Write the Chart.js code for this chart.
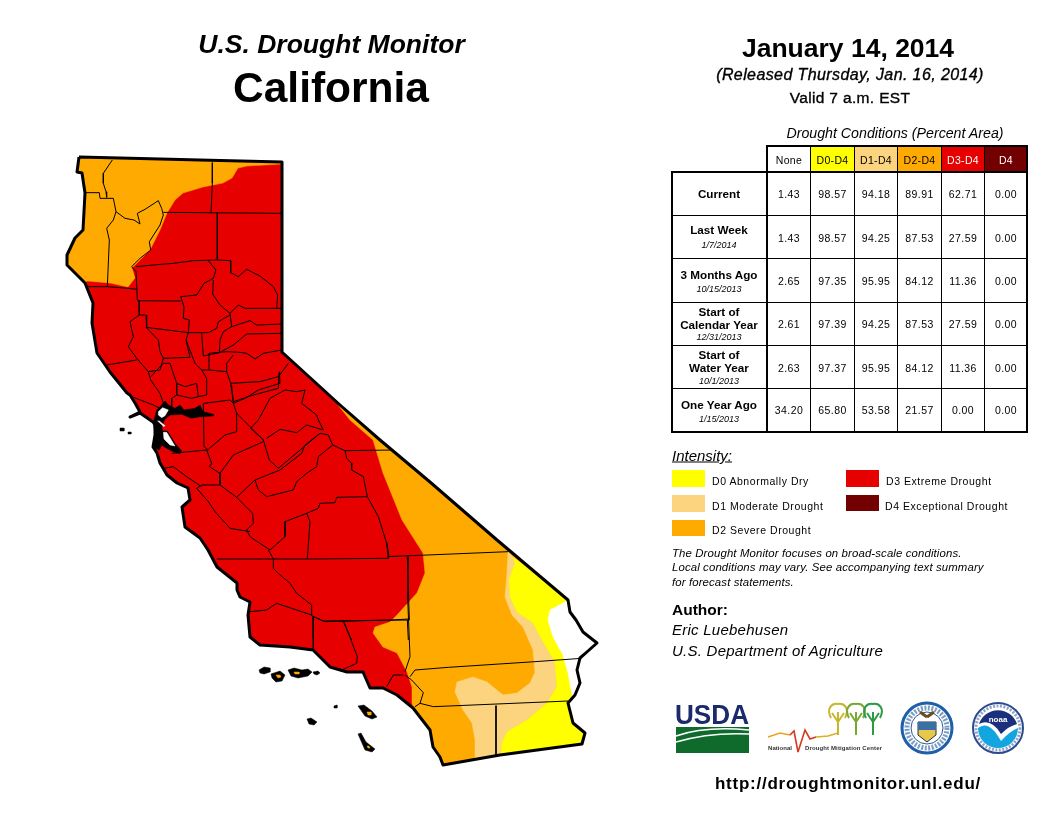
<!DOCTYPE html>
<html><head><meta charset="utf-8">
<script src="https://cdn.jsdelivr.net/npm/chart.js@4"></script>
<style>
html,body{margin:0;padding:0;background:#fff;width:1056px;height:816px;overflow:hidden}
#stage{position:relative;width:1056px;height:816px;font-family:"Liberation Sans",Arial,sans-serif;color:#000}
canvas{position:absolute;left:0;top:0}
.t{position:absolute;white-space:nowrap;line-height:1}
.b{position:absolute;background:#000}
svg{position:absolute;left:0;top:0}
</style></head><body>
<div id="stage"><canvas id="map" width="1056" height="816"></canvas></div>
<script>
// ---------- table data ----------
const columns = ["None","D0-D4","D1-D4","D2-D4","D3-D4","D4"];
const rowCurrent   = ["1.43","98.57","94.18","89.91","62.71","0.00"];
const rowLastWeek  = ["1.43","98.57","94.25","87.53","27.59","0.00"];
const row3Months   = ["2.65","97.35","95.95","84.12","11.36","0.00"];
const rowCalYear   = ["2.61","97.39","94.25","87.53","27.59","0.00"];
const rowWaterYear = ["2.63","97.37","95.95","84.12","11.36","0.00"];
const rowYearAgo   = ["34.20","65.80","53.58","21.57","0.00","0.00"];
const legendLabels = ["D0 Abnormally Dry","D1 Moderate Drought","D2 Severe Drought","D3 Extreme Drought","D4 Exceptional Drought"];
const C = {d0:"#FFFF00",d1:"#FCD37F",d2:"#FFAA00",d3:"#E60000",d4:"#730000"};

// ---------- map geometry, in map units [x,y,...] ----------
const stateOutline = [79,157,120,158,200,160,282,162,282,352,283,353,340,405,380,440,430,482,497,540,568,600,570,612,576,620,583,632,597,643,588,651,580,658,577,670,580,683,575,695,568,703,573,723,585,733,582,744,500,755,443,765,440,757,433,747,430,730,413,708,397,695,383,688,370,688,363,672,347,672,330,667,313,650,290,647,260,645,250,637,248,615,250,602,240,597,237,590,237,583,217,567,208,550,200,538,185,527,182,507,190,500,188,488,177,483,167,475,160,463,157,453,153,447,155,435,155,425,153,422,140,413,130,417,140,412,135,403,130,395,127,393,110,372,97,353,92,323,93,303,85,283,67,265,67,255,75,238,83,230,85,193,82,173,77,172];
const d2North = [79,157,120,158,200,160,282,162,282,164,247,166,238,168,232,178,223,183,203,187,183,193,175,200,167,213,160,230,150,250,132,268,135,278,128,287,110,283,87,281,85,283,67,265,67,255,75,238,83,230,85,193,82,173,77,172];
const d2South = [338,405,380,440,430,482,497,540,568,600,570,612,583,632,597,643,580,658,577,670,580,683,568,703,573,723,585,733,582,744,500,755,443,765,433,747,430,730,413,708,412,703,412,687,407,672,397,653,383,647,373,633,374,630,375,627,390,622,397,615,417,593,425,573,423,553,402,520,383,473,373,440,350,420];
const d1South = [508,552,513,557,515,563,509,580,510,597,517,612,533,623,542,640,555,662,557,687,547,703,527,720,507,732,502,743,501,755,475,759,475,740,472,723,463,710,455,692,457,682,473,677,487,682,503,695,517,693,530,683,535,672,533,650,523,627,512,615,505,597,507,573];
const d0South = [513,557,568,600,570,612,583,632,597,643,580,658,577,670,580,683,568,703,573,723,585,733,582,744,501,755,502,743,507,732,527,720,547,703,557,687,555,662,542,640,533,623,517,612,510,597,509,580,515,563];
const noneEast = [565,602,568,600,570,612,583,632,597,643,580,658,577,670,580,683,573,700,568,673,563,655,553,637,548,620,550,610];
const islandsBlack = [
 [259,670,264,667,270,668,270,672,264,674,260,673],
 [271,674,280,671,285,675,282,681,276,682,272,678],
 [288,670,294,668,302,670,308,669,312,672,308,676,298,678,291,676],
 [313,672,318,671,320,673,317,675,314,674],
 [334,706,337,705,337,708,334,708],
 [358,706,364,705,372,711,377,717,372,719,365,716],
 [307,719,311,718,317,722,314,725,309,724],
 [358,734,361,733,366,742,375,749,372,752,365,750],
 [120,428,124,428,124,431,120,431],[128,432,131,432,131,434,128,434]];
const islandsOrange = [[276,675,280,675,281,677,278,678],[294,672,299,672,299,674,295,674],[367,712,371,712,371,715,368,715],[367,746,369,746,370,748,368,748]];
const bayBlack = [135,48,145,60,165,70,180,60,192,75,225,70,240,60,250,80,280,88,280,93,240,95,215,100,185,88,150,90,135,102,125,125,128,138,142,138,165,175,185,198,180,206,160,200,140,190,125,180,118,195,105,190,100,185,105,150,100,115,110,75,125,60];
const bayWhiteNorth = [115,80,128,68,145,75,135,92,125,98,115,90];
const bayWhiteSouth = [130,142,140,142,160,175,165,183,150,180,132,162];
const baySliver = [113,108,118,108,135,122,132,125];

// county lines, each list is traced on a map sheet with its own origin
const linesSheetA = [
 [157,30,130,70,130,100,138,125,140,142],
 [78,128,118,128,120,145,160,145,168,185,160,210,140,235,148,270,142,410],
 [168,185,195,205,222,210,240,222,232,190,255,178,295,152,305,175,310,195,300,225,268,275,272,300,240,325,215,350,228,365,232,450],
 [310,187,665,190],[457,38,457,100,453,190],[472,190,472,330],
 [228,350,280,345,340,340,400,332,472,330,512,332,512,368,535,380,560,358,600,378,640,410,653,435,650,475],
 [445,332,468,360,460,385,432,400,410,435,362,440,372,470,370,505,388,510,385,548],
 [80,410,142,410,205,415,232,418],[232,452,362,453],
 [237,452,238,495,258,495,260,530],[238,495,210,515,220,560,205,590,230,625,265,665,300,660,310,625],
 [258,532,295,570,300,605,310,625,390,622,378,570,385,548,258,532],
 [460,390,458,432,480,465,510,490,515,530],[510,490,535,465,555,475,665,475],
 [510,495,475,515,470,535,445,548,385,548],[515,530,570,512,590,525,665,522],[480,570,490,545,515,530],
 [665,550,560,552,520,585,478,608,480,570],[425,550,430,618,478,608],
 [378,570,405,640,425,660,447,660,447,610,500,605,540,607,560,610,585,627,610,610,665,600],
 [447,660,500,665,512,700,600,695,655,680,685,640],[500,665,500,640,520,615],
 [512,700,520,755,580,735,655,715,657,670],
 [140,645,230,630],[272,680,310,640,330,640,350,700,350,735,335,745,335,770],[265,665,272,690,300,730,310,760],
 [350,700,375,710,410,700,415,740,440,735,440,685,425,660],[350,735,395,745,415,740],[215,740,280,765,300,775]
];
const linesSheetB = [
 [125,340,230,330,245,370,238,380,270,400,270,435,215,435,200,445],[100,385,130,380,170,410,215,440],
 [220,190,222,320,235,330],[235,328,285,285,320,275,320,220,310,190,300,180,222,190],
 [320,220,400,300,418,360,445,385,570,280],[400,305,310,345,270,400],
 [270,435,320,472,375,420,385,450,410,470,490,450,500,425,530,400,560,380,565,350,608,315,645,332,650,355,665,370,665,390,700,410,712,470,745,530,770,610,775,655],
 [375,420,450,390,515,340,525,315,570,280,595,285,608,315],
 [410,295,450,268,500,278,530,255,580,270,565,240,560,225,515,190,525,150,500,155,465,150,420,175,385,240,362,265,400,300],
 [305,135,310,190,345,175,385,150,450,130,448,95],[645,332,790,330],
 [712,470,620,472,615,488,570,490,565,505,530,520,465,545,465,590,420,630,360,590,350,570,370,550,368,520,320,472],
 [360,575,300,565,255,515,235,485,200,445],[530,520,540,545,532,655],
 [260,657,430,657,530,657,775,655],
 [832,650,838,840,580,843,545,827,545,795,500,760,480,730,445,700,430,685,430,657,415,630],
 [545,825,440,790,410,810,360,815],[550,830,550,895],[640,845,665,900],[832,840,835,900]
];
const linesSheetC = [
 [442,50,805,35],[440,5,447,50],[220,230,255,245,455,240,507,237],[220,230,220,325],
 [312,245,352,350,350,370,305,390],[505,50,503,175,508,300,510,350,495,395],
 [490,405,460,405,440,440],[495,405,515,420,550,458,540,490,525,500],
 [525,390,625,382,885,365,1025,355],[525,390,510,410],[540,490,580,500,985,483],[768,497,768,645]
];
const sheetOrigins = {A:[60,150],B:[130,340],C:[240,540],D:[120,385]};

const toPts = f => { const p=[]; for(let i=0;i<f.length;i+=2) p.push({x:f[i],y:f[i+1]}); return p; };
const fromSheet = (f,o) => { const p=[]; for(let i=0;i<f.length;i+=2) p.push({x:o[0]+f[i]/3,y:o[1]+f[i+1]/3}); return p; };
const areaPts = (p,color) => ({data:p.concat([p[0]]),backgroundColor:color,borderColor:color,borderWidth:0.5,fill:'shape'});
const area = (f,color) => areaPts(toPts(f),color);
const line = (pts,w,color) => ({data:pts,borderColor:color||"#000",borderWidth:w,fill:false});

const layers = [
 area(stateOutline,C.d3), area(d2North,C.d2), area(d2South,C.d2), area(d1South,C.d1), area(d0South,C.d0), area(noneEast,"#fff"),
 ...linesSheetA.map(f=>line(fromSheet(f,sheetOrigins.A),1)),
 ...linesSheetB.map(f=>line(fromSheet(f,sheetOrigins.B),1)),
 ...linesSheetC.map(f=>line(fromSheet(f,sheetOrigins.C),1)),
 areaPts(fromSheet(bayBlack,sheetOrigins.D),"#000"),
 areaPts(fromSheet(bayWhiteNorth,sheetOrigins.D),"#fff"),
 areaPts(fromSheet(bayWhiteSouth,sheetOrigins.D),"#fff"),
 areaPts(fromSheet(baySliver,sheetOrigins.D),"#fff"),
 line(toPts(stateOutline.concat(stateOutline.slice(0,2))),3),
 ...islandsBlack.map(f=>area(f,"#000")), ...islandsOrange.map(f=>area(f,C.d2))
];
layers.forEach((d,i)=>{ d.order=layers.length-i; d.showLine=true; d.pointRadius=0; d.tension=0; d.clip=false; d.borderJoinStyle='round'; });

new Chart(document.getElementById('map'),{
 type:'scatter',
 data:{datasets:layers},
 options:{responsive:false,animation:false,devicePixelRatio:1,layout:{padding:0},events:[],
  plugins:{legend:{display:false},title:{display:false},tooltip:{enabled:false}},
  scales:{x:{type:'linear',display:false,min:0,max:1056},y:{type:'linear',display:false,min:0,max:816,reverse:true}}}
});

// ---------- page text, table, legend ----------
const stage=document.getElementById('stage');
function T(s,x,y,size,o={}){const e=document.createElement('div');e.className='t';e.textContent=s;
 e.style.left=x+'px';e.style.top=y+'px';e.style.fontSize=size+'px';
 e.style.transform=(o.left?'translateY(-50%)':'translate(-50%,-50%)');
 if(o.b)e.style.fontWeight='bold'; if(o.i)e.style.fontStyle='italic'; if(o.u)e.style.textDecoration='underline';
 if(o.st)e.style.webkitTextStroke=o.st+'px #000';
 if(o.c)e.style.color=o.c; if(o.ls)e.style.letterSpacing=o.ls+'px'; stage.appendChild(e);}
function R(x,y,w,h,c){const e=document.createElement('div');e.className='b';e.style.cssText=`left:${x}px;top:${y}px;width:${w}px;height:${h}px;background:${c||'#000'}`;stage.appendChild(e);}

T("U.S. Drought Monitor",331.5,44,26.5,{b:1,i:1});
T("California",331,88,42.5,{b:1});
T("January 14, 2014",848,48,26.5,{b:1});
T("(Released Thursday, Jan. 16, 2014)",850,75,16,{i:1,st:0.35,ls:0.4});
T("Valid 7 a.m. EST",850,98,15.5,{st:0.35,ls:0.35});
T("Drought Conditions (Percent Area)",895,133,14.2,{i:1});

const colX=[767,810,854,897,941,984,1027];
const rowY=[172,215,258,302,345,388,432];
const headBg=["#fff",C.d0,C.d1,C.d2,C.d3,C.d4], headFg=["#000","#000","#000","#000","#fff","#fff"];
columns.forEach((c,i)=>{R(colX[i],146,colX[i+1]-colX[i],26,headBg[i]);T(c,(colX[i]+colX[i+1])/2+0.5,160,10.5,{c:headFg[i],ls:0.3});});
[rowCurrent,rowLastWeek,row3Months,rowCalYear,rowWaterYear,rowYearAgo].forEach((r,j)=>{
 const dy=[193.5,238,281,324,367.5,410][j];
 r.forEach((v,i)=>T(v,(colX[i]+colX[i+1])/2+0.5,dy,10.5,{ls:0.4}));
});
// grid
rowY.slice(1,-1).forEach(y=>R(672,y,355,1));
colX.slice(1,-1).forEach(x=>R(x,146,1,286));
R(767,145,261,2);R(671,171,357,2);R(671,431,357,2);R(671,171,2,262);R(766,145,2,288);R(1026,145,2,288);
// row labels
[["Current",193.5],["Last Week",230],["3 Months Ago",274.5],["Start of",311.5],["Calendar Year",324.5],["Start of",354.5],["Water Year",367.5],["One Year Ago",404.5]]
 .forEach(r=>T(r[0],719,r[1],11.7,{b:1}));
[["1/7/2014",245],["10/15/2013",289],["12/31/2013",337],["10/1/2013",381],["1/15/2013",419]]
 .forEach(r=>T(r[0],719,r[1],9,{i:1}));

// legend
T("Intensity:",672,455,15,{left:1,i:1,u:1});
[[672,470,17,C.d0,0,712,481],[672,495,17,C.d1,1,712,506],[672,520,16,C.d2,2,712,530],[846,470,17,C.d3,3,886,481],[846,495,16,C.d4,4,885,506]]
 .forEach(l=>{R(l[0],l[1],33,l[2],l[3]);T(legendLabels[l[4]],l[5],l[6],10.5,{left:1,ls:0.55});});
T("The Drought Monitor focuses on broad-scale conditions.",672,553.5,11.4,{left:1,i:1,ls:0.12});
T("Local conditions may vary. See accompanying text summary",672,567.5,11.4,{left:1,i:1,ls:0.12});
T("for forecast statements.",672,582.5,11.4,{left:1,i:1,ls:0.12});
T("Author:",672,609.5,15.5,{left:1,b:1});
T("Eric Luebehusen",672,628.5,15,{left:1,i:1,ls:0.25});
T("U.S. Department of Agriculture",672,649.5,15,{left:1,i:1,ls:0.25});
T("http://droughtmonitor.unl.edu/",848,783,17,{b:1,ls:0.75});

// agency logos
const ns='http://www.w3.org/2000/svg';
const s=document.createElementNS(ns,'svg');s.setAttribute('width',1056);s.setAttribute('height',816);
const tree=(x,c)=>`<g fill="none" stroke="${c}" stroke-width="2"><path d="M${x-7} 718C${x-12} 708 ${x-6} 703 ${x} 704C${x+6} 703 ${x+12} 708 ${x+7} 718"/><path d="M${x} 735V712M${x} 722L${x-6} 713M${x} 722L${x+6} 713"/></g>`;
s.innerHTML=`
<text x="675" y="724" font-family="Liberation Sans" font-weight="bold" font-size="28" fill="#1b2a6b" textLength="74" lengthAdjust="spacingAndGlyphs">USDA</text>
<rect x="676" y="727" width="73" height="26" fill="#0f6b2c"/>
<path d="M676 736Q705 726 749 730M676 742Q710 732 749 734" stroke="#fff" stroke-width="1.5" fill="none"/>
<path d="M768 737L780 733L790 735" stroke="#f0a020" stroke-width="1.6" fill="none"/>
<path d="M790 735L794 731L798 752L805 730L810 739L816 737" stroke="#d63a1f" stroke-width="1.6" fill="none"/>
<path d="M816 737L828 736L838 733" stroke="#d9b020" stroke-width="1.6" fill="none"/>
${tree(838,"#c8b72c")}${tree(856,"#7ba832")}${tree(873,"#2d9a45")}
<text x="768" y="750" font-family="Liberation Sans" font-weight="bold" font-size="6" fill="#333" textLength="24">National</text>
<text x="805" y="750" font-family="Liberation Sans" font-weight="bold" font-size="6" fill="#333" textLength="77">Drought Mitigation Center</text>
<circle cx="927" cy="728" r="25" fill="#fff" stroke="#1d5fa8" stroke-width="3"/>
<circle cx="927" cy="728" r="20" fill="none" stroke="#7c9cc4" stroke-width="5" stroke-dasharray="2 1.5"/>
<circle cx="927" cy="728" r="16" fill="#fff" stroke="#2a5d9a" stroke-width="1"/>
<path d="M918 722H936V735L927 742L918 735Z" fill="#e8c84a" stroke="#234" stroke-width="1"/>
<rect x="918" y="722" width="18" height="8" fill="#3b6fa6"/>
<path d="M927 717L920 712M927 717L934 712" stroke="#6b4a20" stroke-width="3"/>
<circle cx="998" cy="728" r="25" fill="#fff" stroke="#2c4a8c" stroke-width="2"/>
<circle cx="998" cy="728" r="22" fill="none" stroke="#8fa3c8" stroke-width="3" stroke-dasharray="2 1.5"/>
<path d="M978 728A20 20 0 0 0 1018 728Q1010 731 1001 741Q989 719 978 728Z" fill="#13a5e0"/>
<path d="M979 724A20 20 0 0 1 1017 724Q1009 726 1001 734Q991 718 979 724Z" fill="#1b2f7c"/>
<text x="998" y="722" text-anchor="middle" font-family="Liberation Sans" font-size="8" font-weight="bold" fill="#fff">noaa</text>`;
stage.appendChild(s);
</script></body></html>
